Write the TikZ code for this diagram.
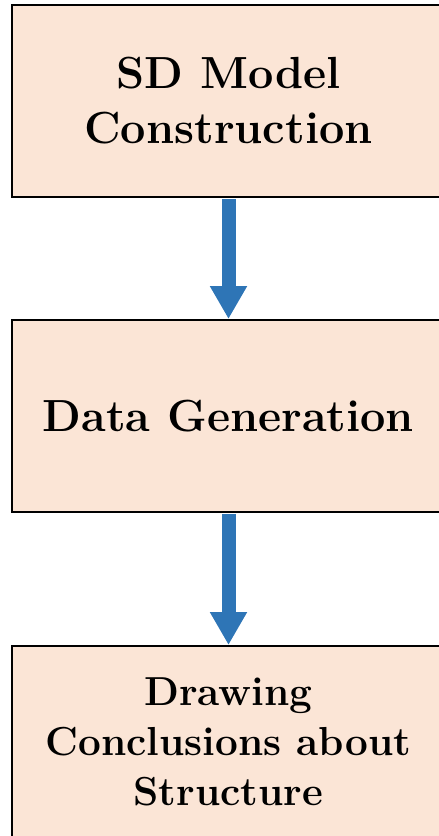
\documentclass[tikz,border=0pt]{standalone}
\usetikzlibrary{arrows.meta}
\definecolor{boxfill}{HTML}{FBE5D6}
\definecolor{arrblue}{HTML}{2E75B6}
\begin{document}
\begin{tikzpicture}[x=1pt,y=-1pt,
  box/.style={draw=black, line width=2pt, fill=boxfill, minimum width=433pt, minimum height=192pt, align=center, inner sep=0pt},
  bigtext/.style={font=\fontsize{45}{55}\selectfont\bfseries},
  smalltext/.style={font=\fontsize{40.5}{50}\selectfont\bfseries},
  arr/.style={draw=arrblue, line width=14pt, -{Triangle[width=35pt,length=33pt]}, shorten <=1pt}]
\useasboundingbox (0,0) rectangle (439,836);
\node[box, bigtext] (b1) at (228.5,101) {SD Model\\Construction};
\node[box, bigtext] (b2) at (228.5,416) {Data Generation};
\node[box, smalltext] (b3) at (228.5,742) {Drawing\\Conclusions about\\Structure};
\draw[arr] (b1.south) -- (b2.north);
\draw[arr] (b2.south) -- (b3.north);
\end{tikzpicture}
\end{document}
